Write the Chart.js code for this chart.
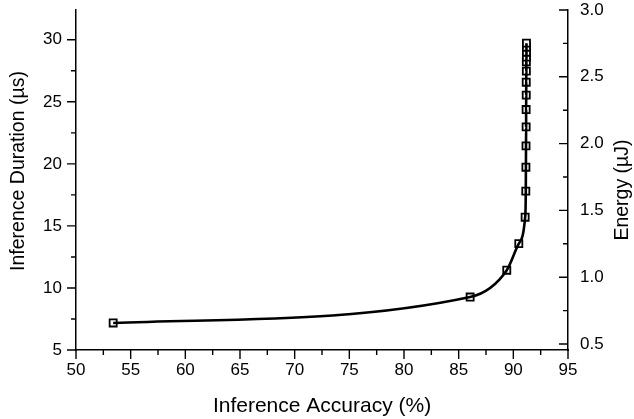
<!DOCTYPE html>
<html>
<head>
<meta charset="utf-8">
<script src="https://cdn.jsdelivr.net/npm/chart.js@4"></script>
<style>
  html, body { margin: 0; padding: 0; background: #fff; }
  #wrap { width: 634px; height: 419px; position: relative; }
</style>
</head>
<body>
<div id="wrap"><canvas id="chart"></canvas></div>
<script>
// values
const accuracy = [53.4, 86.05, 89.4, 90.5, 91.08, 91.14, 91.15, 91.16, 91.17, 91.17, 91.18, 91.18, 91.19, 91.19, 91.2, 91.2, 91.2, 91.2];
const durationUs = [7.18, 9.27, 11.43, 13.57, 15.7, 17.8, 19.73, 21.45, 22.98, 24.38, 25.54, 26.58, 27.47, 28.23, 28.6, 29.0, 29.4, 29.73];

const xTicks = [50, 55, 60, 65, 70, 75, 80, 85, 90, 95];
const FONT = 'Liberation Sans, Arial, sans-serif';

const points = accuracy.map((a, i) => ({ x: a, y: durationUs[i] }));

// major ticks 9px, minor 5px; right axis ticks point inward like the original
const tickMarks = {
  id: 'tickMarks',
  afterDraw(chart) {
    const { x, y, y2 } = chart.scales;
    const c = chart.ctx;
    const len = t => (t.label !== '' ? 9 : 5);
    c.save();
    c.strokeStyle = '#000';
    c.lineWidth = 1.4;
    c.beginPath();
    x.ticks.forEach(t => {
      const px = x.getPixelForValue(t.value);
      c.moveTo(px, x.top); c.lineTo(px, x.top + len(t));
    });
    y.ticks.forEach(t => {
      const py = y.getPixelForValue(t.value);
      c.moveTo(y.right - len(t), py); c.lineTo(y.right, py);
    });
    y2.ticks.forEach(t => {
      const py = y2.getPixelForValue(t.value);
      c.moveTo(y2.left - len(t), py); c.lineTo(y2.left, py);
    });
    c.stroke();
    c.restore();
  }
};

const axisTitles = {
  id: 'axisTitles',
  afterDraw(chart) {
    const c = chart.ctx;
    const area = chart.chartArea;
    c.save();
    c.fillStyle = '#000';
    c.textAlign = 'center';
    c.textBaseline = 'alphabetic';
    c.font = '21px ' + FONT;
    c.fillText('Inference Accuracy (%)', (area.left + area.right) / 2, 412);
    c.font = '19.5px ' + FONT;
    c.save();
    c.translate(24, 171);
    c.rotate(-Math.PI / 2);
    c.fillText('Inference Duration (\u00b5s)', 0, 0);
    c.restore();
    c.translate(628, 190);
    c.rotate(-Math.PI / 2);
    c.fillText('Energy (\u00b5J)', 0, 0);
    c.restore();
  }
};

// fixed box sizes so the plot area sits where the original has it
const fixBox = (w, h) => s => {
  if (w) s.width = w;
  if (h) s.height = h;
  s.paddingTop = 0; s.paddingBottom = 0;
  s.paddingLeft = 0; s.paddingRight = 0;
};

const axisBase = {
  border: { color: '#000', width: 1.5 },
  grid: { display: false, drawTicks: false },
};
const tickFont = { family: FONT, size: 17 };

new Chart(document.getElementById('chart'), {
  type: 'scatter',
  data: {
    datasets: [{
      // line drawn over the markers
      data: points,
      showLine: true,
      borderColor: '#000',
      borderWidth: 2.6,
      cubicInterpolationMode: 'monotone',
      pointRadius: 0,
      order: 1
    }, {
      data: points,
      showLine: false,
      pointStyle: 'rect',
      pointRadius: 5,
      pointBorderWidth: 1.8,
      pointBorderColor: '#000',
      pointBackgroundColor: '#fff',
      order: 2
    }]
  },
  options: {
    responsive: true,
    maintainAspectRatio: false,
    animation: false,
    layout: { padding: { top: 10, right: 0, left: 0, bottom: 0 } },
    plugins: { legend: { display: false }, tooltip: { enabled: false } },
    scales: {
      x: {
        ...axisBase,
        type: 'linear',
        min: 50, max: 95,
        afterFit: fixBox(0, 69),
        ticks: {
          stepSize: 2.5, color: '#000', font: tickFont, padding: 10, maxRotation: 0,
          callback: v => xTicks.includes(v) ? v : ''
        }
      },
      y: {
        ...axisBase,
        position: 'left',
        min: 5, max: 32.4,
        afterFit: fixBox(76, 0),
        ticks: {
          stepSize: 2.5, includeBounds: false, color: '#000', font: tickFont, padding: 14,
          callback: v => v % 5 === 0 ? v : ''
        }
      },
      y2: {
        ...axisBase,
        position: 'right',
        min: 0.455, max: 3.0,
        afterFit: fixBox(66, 0),
        ticks: {
          stepSize: 0.25, includeBounds: false, color: '#000', font: tickFont, padding: 12,
          callback: v => Math.abs(v * 2 - Math.round(v * 2)) < 1e-6 ? v.toFixed(1) : ''
        }
      }
    }
  },
  plugins: [tickMarks, axisTitles]
});
</script>
</body>
</html>
